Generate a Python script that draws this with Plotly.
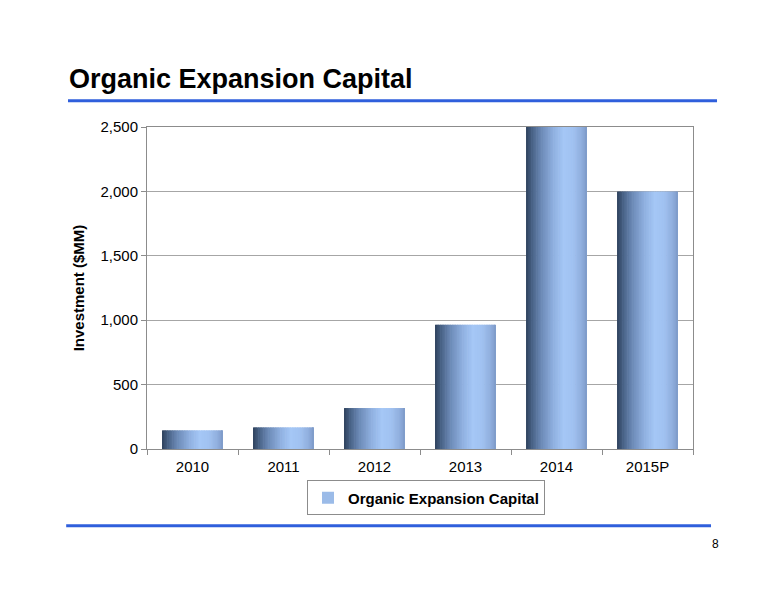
import plotly.graph_objects as go

years = ['2010', '2011', '2012', '2013', '2014', '2015P']
capital = [145, 168, 318, 965, 2500, 2000]
y_ticks = [0, 500, 1000, 1500, 2000, 2500]
y_tick_text = ['0', '500', '1,000', '1,500', '2,000', '2,500']

FONT = 'Liberation Sans, Arial, sans-serif'
BAR_WIDTH = 0.67
N_SLICES = 36

# left-to-right shading of each bar (dark edge, light band, soft right edge)
shade_stops = [
    (0.00, (47, 66, 92)),
    (0.10, (72, 98, 134)),
    (0.25, (108, 138, 182)),
    (0.45, (143, 176, 224)),
    (0.62, (165, 199, 246)),
    (0.78, (160, 193, 240)),
    (0.92, (142, 172, 220)),
    (1.00, (125, 154, 200)),
]


def shade(t):
    for (t0, c0), (t1, c1) in zip(shade_stops, shade_stops[1:]):
        if t <= t1:
            f = (t - t0) / (t1 - t0)
            rgb = [round(a + (b - a) * f) for a, b in zip(c0, c1)]
            return 'rgb(%d,%d,%d)' % tuple(rgb)
    return 'rgb(%d,%d,%d)' % shade_stops[-1][1]


fig = go.Figure()
step = BAR_WIDTH / N_SLICES
for i in range(N_SLICES):
    last = i == N_SLICES - 1
    w = step if last else step * 1.4
    fig.add_bar(
        x=years,
        y=capital,
        width=w,
        offset=-BAR_WIDTH / 2 + i * step,
        marker=dict(color=shade((i + 0.5) / N_SLICES), line=dict(width=0)),
        showlegend=False,
        hoverinfo='skip',
    )

# legend entry
fig.add_bar(
    x=years,
    y=[0] * len(years),
    name='Organic Expansion Capital',
    marker=dict(color='#9bbbe8', line=dict(width=0)),
    showlegend=True,
)

# page has an 8px body margin, so the figure is drawn 8px smaller
fig.update_layout(
    width=768,
    height=592,
    barmode='overlay',
    plot_bgcolor='white',
    paper_bgcolor='white',
    margin=dict(l=139, r=83, t=119, b=151),
    font=dict(family=FONT, size=15, color='black'),
    title=dict(
        text='<b>Organic Expansion Capital</b>',
        font=dict(family=FONT, size=27, color='black'),
        x=61 / 768, xanchor='left', xref='container',
        y=1 - 71 / 592, yanchor='middle', yref='container',
    ),
    legend=dict(
        orientation='h',
        x=0.511, xanchor='center',
        y=-0.152, yanchor='middle',
        bordercolor='#8c8c8c', borderwidth=1,
        font=dict(family=FONT, size=15, color='black', weight='bold'),
        itemwidth=30,
        tracegroupgap=0,
    ),
    shapes=[
        dict(type='line', xref='paper', yref='paper',
             x0=-0.1447, x1=1.044, y0=1.0817, y1=1.0817,
             line=dict(color='#2f5fdc', width=3)),
        dict(type='line', xref='paper', yref='paper',
             x0=-0.148, x1=1.033, y0=-0.238, y1=-0.238,
             line=dict(color='#2f5fdc', width=3)),
    ],
    annotations=[
        dict(text='8', xref='paper', yref='paper', x=1.0415, y=-0.296,
             xanchor='center', yanchor='middle',
             showarrow=False, font=dict(family=FONT, size=12, color='black')),
    ],
)

fig.update_xaxes(
    type='category',
    showline=True, linecolor='#8c8c8c', linewidth=1, mirror=True,
    ticks='outside', tickson='boundaries', ticklen=5, tickcolor='#8c8c8c',
    ticklabelstandoff=4,
    showgrid=False,
    tickfont=dict(family=FONT, size=15, color='black'),
)
fig.update_yaxes(
    range=[0, 2500],
    tickvals=y_ticks, ticktext=y_tick_text,
    showline=True, linecolor='#8c8c8c', linewidth=1, mirror=True,
    ticks='outside', ticklen=5, tickcolor='#8c8c8c',
    showgrid=True, gridcolor='#a6a6a6', gridwidth=1,
    zeroline=False,
    tickfont=dict(family=FONT, size=15, color='black'),
    title=dict(text='<b>Investment ($MM)</b>', standoff=12,
               font=dict(family=FONT, size=15, color='black')),
)

fig.write_html('out.html')
